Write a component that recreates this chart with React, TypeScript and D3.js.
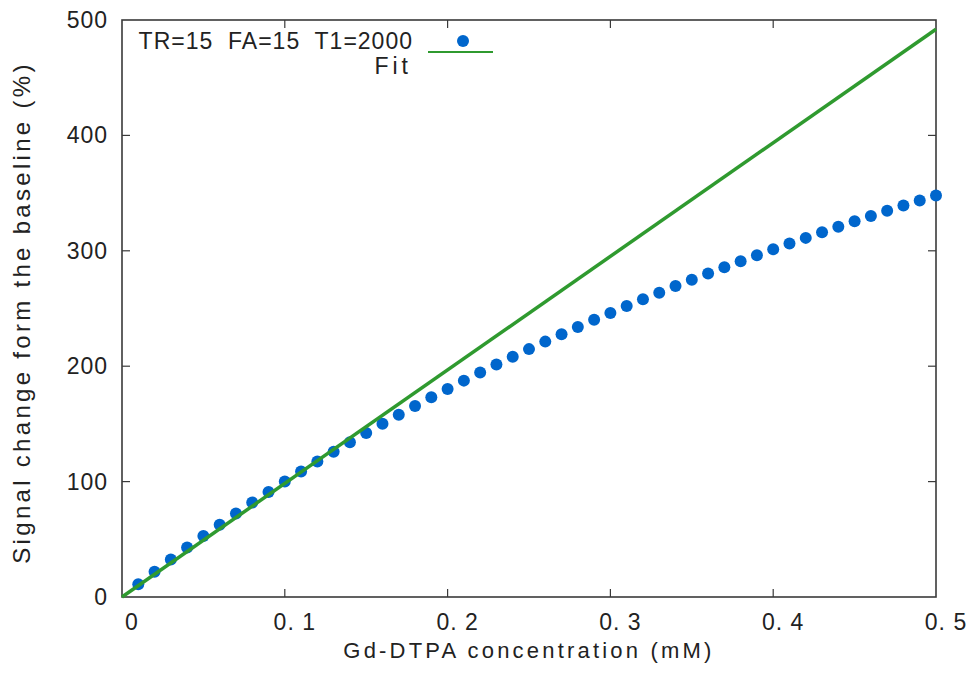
import React, { useEffect, useRef } from 'react';
import * as d3 from 'd3';

// Gd-DTPA concentration (mM) of each measured point
const concentrations = [
  0.01, 0.02, 0.03, 0.04, 0.05, 0.06, 0.07, 0.08, 0.09, 0.1,
  0.11, 0.12, 0.13, 0.14, 0.15, 0.16, 0.17, 0.18, 0.19, 0.2,
  0.21, 0.22, 0.23, 0.24, 0.25, 0.26, 0.27, 0.28, 0.29, 0.3,
  0.31, 0.32, 0.33, 0.34, 0.35, 0.36, 0.37, 0.38, 0.39, 0.4,
  0.41, 0.42, 0.43, 0.44, 0.45, 0.46, 0.47, 0.48, 0.49, 0.5,
];

// signal change (%)
const signalChange = [
  11.1, 21.9, 32.5, 42.8, 52.9, 62.7, 72.4, 81.8, 91.0, 100.0,
  108.8, 117.4, 125.9, 134.1, 142.2, 150.2, 157.9, 165.5, 173.0, 180.3,
  187.5, 194.5, 201.4, 208.2, 214.8, 221.3, 227.7, 234.0, 240.2, 246.2,
  252.2, 258.0, 263.7, 269.4, 274.9, 280.4, 285.7, 291.0, 296.2, 301.3,
  306.3, 311.2, 316.1, 320.9, 325.6, 330.2, 334.7, 339.2, 343.6, 348.0,
];

// linear fit line end points
const fitX = [0, 0.5];
const fitY = [0, 492];

const xTicks = [0, 0.1, 0.2, 0.3, 0.4, 0.5];
const yTicks = [0, 100, 200, 300, 400, 500];

const legendLabels = ['TR=15  FA=15  T1=2000', 'Fit'];

const WIDTH = 972;
const HEIGHT = 677;
const FONT = "'Liberation Sans', Arial, sans-serif";
const DOT_COLOR = '#0066cc';
const FIT_COLOR = '#2f9a2f';
const AXIS_COLOR = '#3a3a3a';

const App = () => {
  const svgRef = useRef<SVGSVGElement>(null);

  useEffect(() => {
    if (!svgRef.current) return;
    const root = d3.select(svgRef.current);
    root.selectAll('*').remove();

    const margin = { top: 20, right: 36, bottom: 80, left: 122 };
    const innerWidth = WIDTH - margin.left - margin.right;
    const innerHeight = HEIGHT - margin.top - margin.bottom;

    const svg = root.append('g')
      .attr('transform', `translate(${margin.left},${margin.top})`);

    const xScale = d3.scaleLinear().domain([0, 0.5]).range([0, innerWidth]);
    const yScale = d3.scaleLinear().domain([0, 500]).range([innerHeight, 0]);

    // ticks pointing inward on all four sides
    const tickLen = 8;
    const ticks = svg.append('g').attr('stroke', AXIS_COLOR).attr('stroke-width', 1.2);
    xTicks.slice(1, -1).forEach(t => {
      const x = xScale(t);
      ticks.append('line').attr('x1', x).attr('x2', x).attr('y1', innerHeight).attr('y2', innerHeight - tickLen);
      ticks.append('line').attr('x1', x).attr('x2', x).attr('y1', 0).attr('y2', tickLen);
    });
    yTicks.slice(1, -1).forEach(t => {
      const y = yScale(t);
      ticks.append('line').attr('x1', 0).attr('x2', tickLen).attr('y1', y).attr('y2', y);
      ticks.append('line').attr('x1', innerWidth).attr('x2', innerWidth - tickLen).attr('y1', y).attr('y2', y);
    });

    // frame
    svg.append('rect')
      .attr('width', innerWidth)
      .attr('height', innerHeight)
      .attr('fill', 'none')
      .attr('stroke', AXIS_COLOR)
      .attr('stroke-width', 1.6);

    // tick labels
    svg.append('g')
      .selectAll('text')
      .data(xTicks)
      .enter()
      .append('text')
      .attr('x', d => xScale(d) + 10)
      .attr('y', innerHeight + 33)
      .attr('text-anchor', 'middle')
      .attr('font-family', FONT)
      .attr('font-size', 23)
      .attr('letter-spacing', 1)
      .attr('fill', '#222')
      .text(d => (d === 0 ? '0' : d.toFixed(1).replace('.', '. ')));

    svg.append('g')
      .selectAll('text')
      .data(yTicks)
      .enter()
      .append('text')
      .attr('x', -14)
      .attr('y', d => yScale(d))
      .attr('dy', '0.35em')
      .attr('text-anchor', 'end')
      .attr('font-family', FONT)
      .attr('font-size', 23)
      .attr('letter-spacing', 1)
      .attr('fill', '#222')
      .text(d => d);

    // axis titles
    svg.append('text')
      .attr('x', innerWidth / 2)
      .attr('y', innerHeight + 61)
      .attr('text-anchor', 'middle')
      .attr('font-family', FONT)
      .attr('font-size', 22)
      .attr('letter-spacing', 3.2)
      .attr('fill', '#222')
      .text('Gd-DTPA concentration (mM)');

    svg.append('text')
      .attr('transform', `translate(${-92},${innerHeight / 2 + 4}) rotate(-90)`)
      .attr('text-anchor', 'middle')
      .attr('font-family', FONT)
      .attr('font-size', 24)
      .attr('letter-spacing', 3.3)
      .attr('fill', '#222')
      .text('Signal change form the baseline (%)');

    // data points
    svg.append('g')
      .selectAll('circle')
      .data(concentrations)
      .enter()
      .append('circle')
      .attr('cx', d => xScale(d))
      .attr('cy', (d, i) => yScale(signalChange[i]))
      .attr('r', 6)
      .attr('fill', DOT_COLOR);

    // fit line
    const line = d3.line<number>()
      .x(d => xScale(d))
      .y((d, i) => yScale(fitY[i]));
    svg.append('path')
      .datum(fitX)
      .attr('d', line)
      .attr('fill', 'none')
      .attr('stroke', FIT_COLOR)
      .attr('stroke-width', 3.5);

    // legend
    const legend = svg.append('g').attr('font-family', FONT).attr('font-size', 23).attr('fill', '#222');
    legend.append('text')
      .attr('x', 291)
      .attr('y', 29)
      .attr('text-anchor', 'end')
      .attr('letter-spacing', 1)
      .style('white-space', 'pre')
      .text(legendLabels[0]);
    legend.append('text')
      .attr('x', 290)
      .attr('y', 54)
      .attr('text-anchor', 'end')
      .attr('letter-spacing', 4)
      .text(legendLabels[1]);
    legend.append('circle')
      .attr('cx', 341)
      .attr('cy', 21)
      .attr('r', 6)
      .attr('fill', DOT_COLOR);
    legend.append('line')
      .attr('x1', 306)
      .attr('x2', 371)
      .attr('y1', 32)
      .attr('y2', 32)
      .attr('stroke', FIT_COLOR)
      .attr('stroke-width', 2);
  }, []);

  return (
    <div style={{ position: 'absolute', left: 0, top: 0, width: WIDTH, height: HEIGHT, background: '#fff' }}>
      <svg ref={svgRef} width={WIDTH} height={HEIGHT}></svg>
    </div>
  );
};

export default App;
